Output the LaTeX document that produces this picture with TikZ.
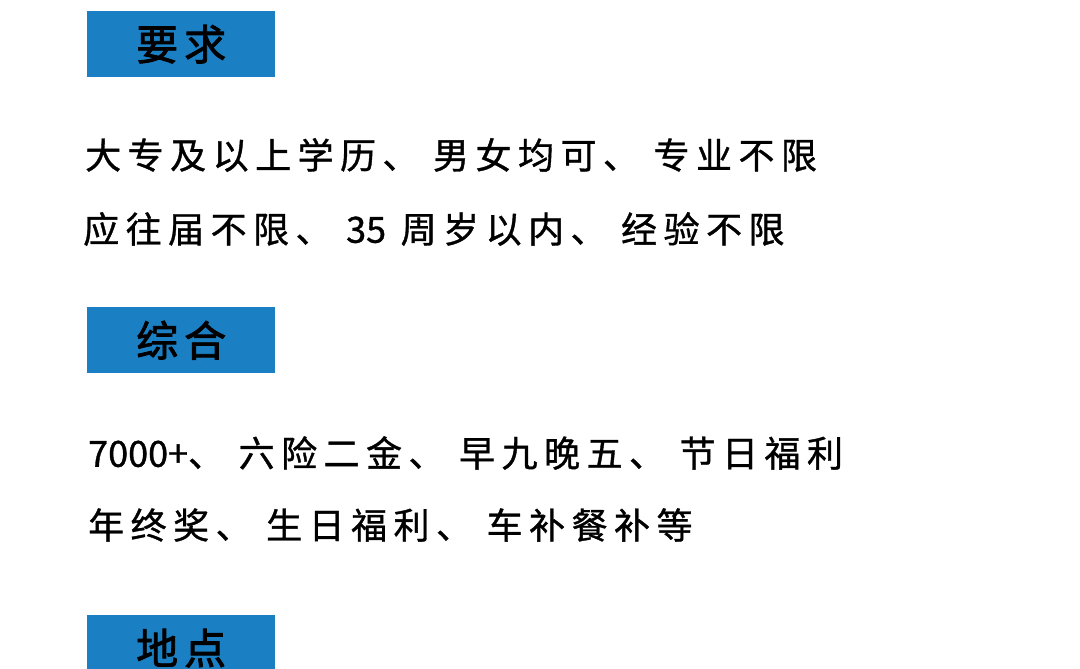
\documentclass[tikz,border=0pt]{standalone}
\usepackage{fontspec}
\newfontfamily\cjk{Noto Sans CJK SC}[FakeBold=1,LetterSpace=18]
\newfontfamily\cjkn{Noto Sans CJK SC}[FakeBold=1]
\newfontfamily\cjkb{Noto Sans CJK SC}[FakeBold=2]
\definecolor{hb}{HTML}{1B7FC4}
\begin{document}
\begin{tikzpicture}[x=1pt,y=-1pt,
  hdr/.style={fill=hb,minimum width=188pt,minimum height=66pt,anchor=north west,inner sep=0pt,font=\cjkb\fontsize{42}{46}\selectfont},
  txt/.style={anchor=west,inner sep=0pt,font=\cjk\fontsize{36}{40}\selectfont}]
\useasboundingbox (0,0) rectangle (1080,669);
\fill[white] (0,0) rectangle (1080,669);
\node[hdr] (h1) at (87,11) {要\hspace{6pt}求};
\node[hdr] (h2) at (87,307) {综\hspace{6pt}合};
\begin{scope}
\clip (0,0) rectangle (1080,669);
\node[hdr] (h3) at (87,615) {地\hspace{6pt}点};
\end{scope}
\node[txt] (l1) at (85,155) {大专及以上学历、\ 男女均可、\ 专业不限};
\node[txt] (l2) at (83,229) {应往届不限、\ {\cjkn 35}\ 周岁以内、\ 经验不限};
\node[txt] (l3) at (88,453) {{\cjkn 7000+}、\ 六险二金、\ 早九晚五、\ 节日福利};
\node[txt] (l4) at (88,525) {年终奖、\ 生日福利、\ 车补餐补等};
\end{tikzpicture}
\end{document}
